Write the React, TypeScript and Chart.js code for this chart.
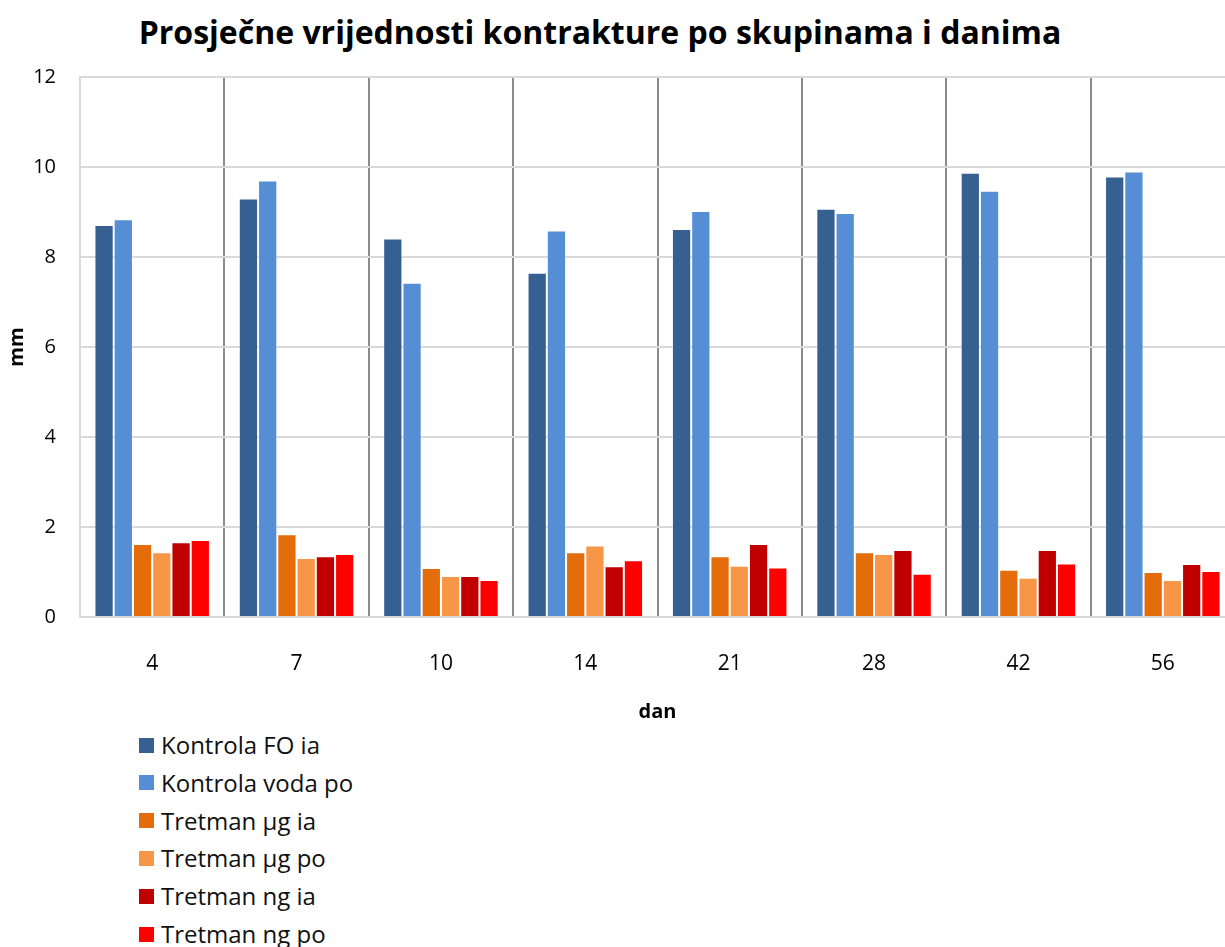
import React, { useEffect, useRef } from "react";
import { Chart, registerables } from "chart.js";
Chart.register(...registerables);

const categories = ["4", "7", "10", "14", "21", "28", "42", "56"];
const seriesNames = [
  "Kontrola FO ia",
  "Kontrola voda po",
  "Tretman µg ia",
  "Tretman µg po",
  "Tretman ng ia",
  "Tretman ng po",
];
const kontrolaFOia = [8.71, 9.3, 8.41, 7.65, 8.62, 9.07, 9.87, 9.79];
const kontrolaVodaPo = [8.84, 9.7, 7.43, 8.59, 9.02, 8.98, 9.47, 9.9];
const tretmanUgIa = [1.62, 1.84, 1.09, 1.44, 1.35, 1.44, 1.05, 1.0];
const tretmanUgPo = [1.44, 1.31, 0.91, 1.59, 1.14, 1.4, 0.87, 0.82];
const tretmanNgIa = [1.66, 1.35, 0.91, 1.13, 1.62, 1.49, 1.49, 1.18];
const tretmanNgPo = [1.71, 1.4, 0.82, 1.26, 1.1, 0.96, 1.19, 1.02];
const seriesColors = ["#366092", "#558ed5", "#e46c0a", "#f79646", "#c00000", "#ff0000"];
const yMin = 0;
const yMax = 12;
const yStep = 2;

const FONT = "'Open Sans', 'DejaVu Sans', sans-serif";

export default function App() {
  const ref = useRef<HTMLCanvasElement>(null);
  useEffect(() => {
    const values = [kontrolaFOia, kontrolaVodaPo, tretmanUgIa, tretmanUgPo, tretmanNgIa, tretmanNgPo];
    const chart = new Chart(ref.current!, {
      type: "bar",
      data: {
        labels: categories,
        datasets: values.map((v, i) => ({
          label: seriesNames[i],
          data: v,
          backgroundColor: seriesColors[i],
          borderColor: "rgba(255,255,255,0.35)",
          borderWidth: 1,
          categoryPercentage: 0.8,
          barPercentage: 1.0,
        })),
      },
      options: {
        responsive: false,
        animation: false,
        layout: { padding: { top: 77, right: 5, left: 0, bottom: 0 } },
        plugins: {
          legend: { display: false },
          title: { display: false },
          tooltip: { enabled: false },
        },
        scales: {
          x: {
            grid: {
              offset: true,
              color: (ctx: any) => (ctx.index === 0 ? "#d9d9d9" : "#8c8c8c"),
              lineWidth: 2,
              drawTicks: false,
            },
            border: { color: "#d9d9d9", width: 2 },
            ticks: { padding: 34, color: "#000", font: { family: FONT, size: 21 } },
            title: {
              display: true,
              text: "dan",
              color: "#000",
              font: { family: FONT, size: 20, weight: "bold" },
              padding: { top: 23, bottom: 4 },
            },
            afterFit: (s: any) => {
              s.height = 111;
            },
          },
          y: {
            min: yMin,
            max: yMax,
            ticks: { stepSize: yStep, padding: 24, color: "#000", font: { family: FONT, size: 20 } },
            grid: { color: "#d9d9d9", lineWidth: 2, drawTicks: false },
            border: { color: "#d9d9d9", width: 2 },
            title: {
              display: true,
              text: "mm",
              color: "#000",
              font: { family: FONT, size: 20, weight: "bold" },
              padding: { top: 5, bottom: 0 },
            },
            afterFit: (s: any) => {
              s.width = 80;
            },
          },
        },
      },
    });
    return () => chart.destroy();
  }, []);

  const legendTop = 745;
  const legendStep = 37.8;

  return (
    <div
      style={{
        position: "absolute",
        left: 0,
        top: 0,
        width: 1225,
        height: 947,
        overflow: "hidden",
        background: "#fff",
        fontFamily: FONT,
      }}
    >
      <div
        style={{
          position: "absolute",
          left: 0,
          top: 12,
          width: 1200,
          textAlign: "center",
          fontWeight: "bold",
          fontSize: 32,
          lineHeight: "40px",
          color: "#000",
          whiteSpace: "nowrap",
        }}
      >
        Prosječne vrijednosti kontrakture po skupinama i danima
      </div>
      <canvas
        ref={ref}
        width={1240}
        height={728}
        style={{ position: "absolute", left: 0, top: 0, display: "block" }}
      />
      {seriesNames.map((n, i) => (
        <div
          key={n}
          style={{
            position: "absolute",
            left: 139,
            top: legendTop + i * legendStep - 16,
            height: 32,
            display: "flex",
            alignItems: "center",
            whiteSpace: "nowrap",
          }}
        >
          <span
            style={{ display: "inline-block", width: 15, height: 15, background: seriesColors[i], marginRight: 7 }}
          />
          <span style={{ fontSize: 24, lineHeight: "32px", color: "#111" }}>{n}</span>
        </div>
      ))}
    </div>
  );
}
